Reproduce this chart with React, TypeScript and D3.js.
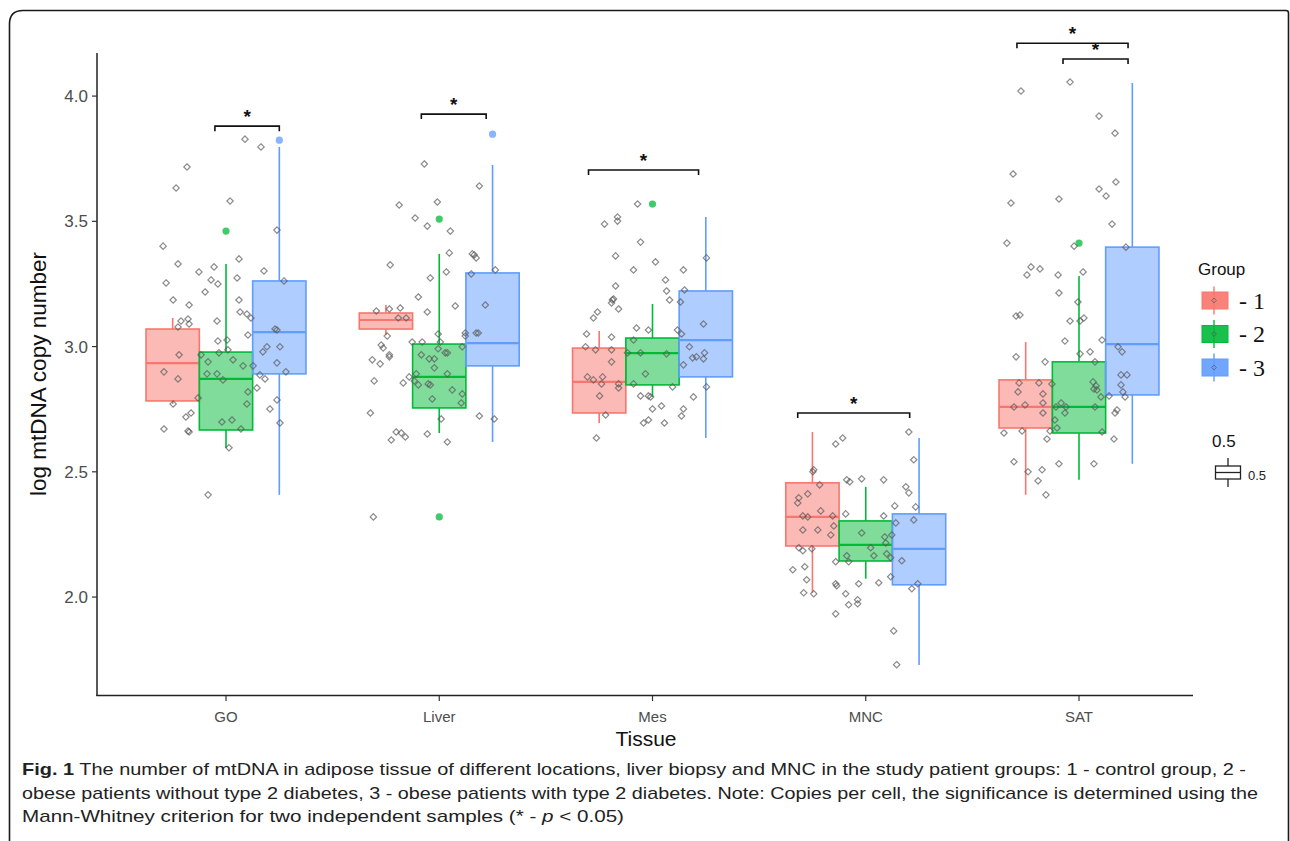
import React from 'react';
import * as d3 from 'd3';

// ---------- DATA ----------
const tissues = ['GO', 'Liver', 'Mes', 'MNC', 'SAT'];
const groupLabels = ['- 1', '- 2', '- 3'];
const groupColors = ['#F8766D', '#00BA38', '#619CFF'];
const yTicks = [2.0, 2.5, 3.0, 3.5, 4.0];

// [lower whisker, Q1, median, Q3, upper whisker] for each tissue
const statsGroup1 = [
  [2.771, 2.783, 2.934, 3.070, 3.114],
  [3.046, 3.070, 3.106, 3.134, 3.166],
  [2.695, 2.735, 2.859, 2.994, 3.062],
  [2.017, 2.204, 2.320, 2.456, 2.659],
  [2.408, 2.675, 2.759, 2.867, 3.018],
];
const statsGroup2 = [
  [2.595, 2.667, 2.871, 2.978, 3.330],
  [2.655, 2.755, 2.879, 3.010, 3.370],
  [2.799, 2.847, 2.974, 3.034, 3.170],
  [2.073, 2.144, 2.208, 2.304, 2.440],
  [2.468, 2.655, 2.759, 2.939, 3.282],
];
const statsGroup3 = [
  [2.408, 2.891, 3.058, 3.262, 3.797],
  [2.619, 2.923, 3.014, 3.294, 3.725],
  [2.635, 2.879, 3.026, 3.222, 3.517],
  [1.729, 2.049, 2.192, 2.332, 2.635],
  [2.532, 2.807, 3.010, 3.397, 4.052],
];

// outliers: tissue index, group index, value
const outlierTissue = [0, 0, 1, 1, 1, 2, 4];
const outlierGroup = [1, 2, 1, 1, 2, 1, 1];
const outlierValue = [3.461, 3.824, 3.509, 2.320, 3.848, 3.569, 3.413];

// jittered raw points: [offset from tissue centre (category units), value]
const pointsGO: [number, number][] = [
  [0.089, 3.828], [0.164, 3.797], [-0.183, 3.717], [-0.234, 3.633], [0.019, 3.581], [0.239, 3.465],
  [-0.295, 3.401], [-0.225, 3.330], [0.061, 3.350], [-0.056, 3.318], [-0.127, 3.298], [0.178, 3.302],
  [-0.281, 3.254], [-0.070, 3.266], [-0.038, 3.250], [0.052, 3.274], [0.272, 3.262], [-0.098, 3.218],
  [-0.248, 3.186], [-0.173, 3.166], [0.061, 3.186], [-0.211, 3.102], [-0.178, 3.110], [-0.173, 3.090],
  [-0.225, 3.078], [-0.042, 3.102], [0.066, 3.138], [0.098, 3.130], [0.117, 3.114], [0.230, 3.070],
  [0.239, 3.066], [-0.038, 3.022], [0.005, 3.026], [0.103, 3.046], [0.173, 2.979], [0.192, 2.999],
  [0.253, 2.999], [-0.220, 2.967], [-0.033, 2.975], [0.009, 2.987], [-0.084, 2.939], [0.033, 2.947],
  [0.080, 2.923], [-0.117, 2.967], [-0.291, 2.899], [-0.225, 2.871], [-0.089, 2.891], [-0.042, 2.891],
  [-0.014, 2.867], [0.239, 2.935], [0.127, 2.923], [0.159, 2.887], [0.183, 2.871], [0.281, 2.899],
  [0.145, 2.835], [0.103, 2.819], [-0.131, 2.795], [-0.248, 2.771], [0.098, 2.771], [0.239, 2.787],
  [0.206, 2.751], [-0.164, 2.735], [-0.188, 2.719], [-0.019, 2.699], [0.028, 2.707], [0.253, 2.695],
  [-0.291, 2.671], [-0.178, 2.663], [-0.173, 2.659], [0.070, 2.671], [0.014, 2.596], [-0.084, 2.408],
];
const pointsLiver: [number, number][] = [
  [-0.070, 3.729], [0.188, 3.641], [-0.188, 3.565], [-0.009, 3.577], [-0.113, 3.513], [-0.056, 3.481],
  [0.052, 3.461], [-0.230, 3.326], [0.047, 3.374], [0.155, 3.370], [0.164, 3.366], [0.173, 3.354],
  [0.033, 3.298], [-0.042, 3.274], [0.150, 3.290], [0.263, 3.306], [-0.098, 3.198], [-0.056, 3.138],
  [0.075, 3.162], [0.216, 3.166], [-0.295, 3.142], [-0.234, 3.150], [-0.183, 3.154], [-0.192, 3.114],
  [-0.155, 3.114], [-0.244, 3.042], [-0.005, 3.050], [0.122, 3.054], [0.122, 3.042], [0.173, 3.054],
  [0.183, 3.054], [-0.272, 3.006], [-0.263, 2.994], [-0.127, 3.018], [-0.080, 3.018], [0.005, 3.018],
  [-0.005, 2.991], [0.028, 2.975], [0.038, 2.975], [0.108, 2.999], [-0.234, 2.967], [-0.234, 2.959],
  [-0.084, 2.967], [-0.047, 2.951], [-0.023, 2.951], [-0.314, 2.947], [-0.277, 2.931], [-0.023, 2.915],
  [-0.108, 2.891], [0.038, 2.891], [-0.141, 2.879], [-0.117, 2.863], [-0.305, 2.863], [-0.169, 2.855],
  [-0.052, 2.851], [-0.042, 2.847], [-0.098, 2.847], [0.061, 2.827], [0.108, 2.811], [-0.033, 2.791],
  [0.103, 2.775], [-0.323, 2.735], [0.009, 2.711], [0.188, 2.723], [0.258, 2.711], [-0.202, 2.659],
  [-0.178, 2.655], [-0.159, 2.639], [-0.225, 2.627], [-0.056, 2.651], [0.038, 2.619], [-0.309, 2.320],
];
const pointsMes: [number, number][] = [
  [-0.070, 3.569], [-0.164, 3.517], [-0.164, 3.501], [-0.225, 3.489], [-0.056, 3.417], [-0.173, 3.362],
  [0.253, 3.354], [0.014, 3.338], [-0.089, 3.306], [0.145, 3.306], [0.061, 3.266], [-0.173, 3.242],
  [0.066, 3.222], [0.150, 3.226], [-0.183, 3.190], [-0.188, 3.186], [-0.192, 3.174], [0.080, 3.186],
  [0.131, 3.178], [-0.159, 3.150], [-0.258, 3.138], [-0.277, 3.114], [0.239, 3.090], [-0.075, 3.074],
  [-0.019, 3.066], [0.117, 3.066], [0.136, 3.050], [-0.309, 3.050], [-0.192, 3.038], [-0.089, 3.026],
  [-0.314, 2.999], [-0.267, 2.987], [-0.192, 2.987], [-0.117, 2.975], [-0.056, 2.975], [0.066, 2.971],
  [0.173, 2.999], [0.244, 2.975], [0.206, 2.959], [0.188, 2.955], [0.239, 2.951], [-0.192, 2.939],
  [-0.033, 2.891], [0.145, 2.927], [-0.305, 2.879], [-0.277, 2.867], [-0.234, 2.879], [-0.239, 2.851],
  [-0.159, 2.851], [-0.089, 2.851], [-0.159, 2.835], [0.094, 2.839], [0.253, 2.839], [-0.248, 2.803],
  [-0.056, 2.803], [-0.019, 2.803], [-0.009, 2.799], [0.192, 2.799], [0.000, 2.751], [0.042, 2.763],
  [0.145, 2.751], [0.136, 2.723], [-0.220, 2.727], [-0.019, 2.707], [-0.042, 2.695], [0.056, 2.695],
  [-0.263, 2.635],
];
const pointsMNC: [number, number][] = [
  [0.202, 2.659], [-0.108, 2.635], [-0.141, 2.611], [0.225, 2.548], [-0.244, 2.508], [-0.248, 2.500],
  [-0.089, 2.468], [-0.075, 2.460], [-0.019, 2.472], [0.084, 2.468], [-0.216, 2.448], [0.188, 2.440],
  [0.202, 2.416], [-0.272, 2.412], [-0.314, 2.396], [-0.319, 2.376], [0.234, 2.360], [0.136, 2.364],
  [-0.211, 2.344], [-0.295, 2.324], [-0.272, 2.320], [-0.155, 2.324], [-0.094, 2.332], [0.084, 2.324],
  [0.225, 2.308], [0.141, 2.296], [-0.150, 2.284], [-0.295, 2.268], [-0.225, 2.268], [-0.164, 2.248],
  [-0.019, 2.256], [0.122, 2.248], [0.089, 2.240], [0.094, 2.216], [0.023, 2.197], [-0.314, 2.197],
  [-0.295, 2.185], [-0.253, 2.193], [0.038, 2.165], [0.098, 2.173], [0.117, 2.157], [-0.089, 2.165],
  [-0.080, 2.141], [-0.141, 2.141], [0.169, 2.145], [-0.286, 2.121], [-0.342, 2.109], [0.117, 2.081],
  [-0.277, 2.069], [0.061, 2.057], [-0.033, 2.053], [0.244, 2.053], [0.216, 2.033], [-0.141, 2.053],
  [-0.136, 2.045], [-0.291, 2.017], [-0.244, 2.013], [-0.094, 2.013], [-0.038, 1.989], [-0.038, 1.973],
  [-0.080, 1.969], [-0.141, 1.933], [0.131, 1.865], [0.145, 1.730],
];
const pointsSAT: [number, number][] = [
  [-0.042, 4.056], [-0.272, 4.020], [0.094, 3.920], [0.169, 3.852], [-0.309, 3.689], [0.173, 3.657],
  [0.094, 3.629], [0.127, 3.601], [-0.319, 3.573], [-0.094, 3.589], [0.155, 3.489], [-0.338, 3.413],
  [-0.023, 3.401], [0.220, 3.397], [-0.225, 3.318], [-0.244, 3.286], [-0.183, 3.310], [-0.098, 3.286],
  [0.019, 3.298], [-0.094, 3.214], [-0.005, 3.178], [-0.295, 3.122], [-0.277, 3.126], [-0.042, 3.102],
  [0.005, 3.102], [0.023, 3.114], [-0.066, 3.022], [0.108, 3.026], [-0.295, 2.959], [0.005, 2.971],
  [0.052, 2.979], [0.183, 2.999], [0.202, 2.979], [-0.159, 2.939], [0.075, 2.939], [-0.281, 2.855],
  [-0.188, 2.855], [-0.127, 2.851], [0.066, 2.859], [0.080, 2.843], [0.197, 2.887], [0.225, 2.887],
  [0.197, 2.847], [-0.286, 2.819], [-0.169, 2.811], [0.070, 2.831], [0.084, 2.827], [0.141, 2.803],
  [0.206, 2.819], [0.216, 2.799], [0.103, 2.799], [-0.305, 2.759], [-0.253, 2.767], [-0.169, 2.775],
  [-0.108, 2.759], [-0.084, 2.775], [-0.061, 2.759], [0.075, 2.759], [-0.066, 2.735], [0.169, 2.735],
  [0.178, 2.747], [-0.169, 2.735], [-0.113, 2.707], [-0.103, 2.675], [-0.136, 2.663], [-0.352, 2.655],
  [-0.267, 2.663], [-0.150, 2.631], [0.108, 2.659], [0.164, 2.631], [-0.305, 2.540], [-0.239, 2.500],
  [-0.173, 2.508], [-0.094, 2.532], [0.070, 2.532], [-0.192, 2.464], [-0.155, 2.408],
];

// significance brackets: tissue index, left/right offsets (category units), height (value)
const bracketTissue = [0, 1, 2, 3, 4, 4];
const bracketFrom = [-0.052, -0.084, -0.300, -0.319, -0.291, -0.075];
const bracketTo = [0.250, 0.220, 0.216, 0.206, 0.230, 0.230];
const bracketValue = [3.880, 3.928, 3.705, 2.735, 4.211, 4.148];

const captionLines = [
  'The number of mtDNA in adipose tissue of different locations, liver biopsy and MNC in the study patient groups: 1 - control group, 2 -',
  'obese patients without type 2 diabetes, 3 - obese patients with type 2 diabetes. Note: Copies per cell, the significance is determined using the',
  'Mann-Whitney criterion for two independent samples (* - ',
];

// ---------- CHART ----------
const W = 1290;
const H = 841;
const SANS = '"Liberation Sans", Arial, sans-serif';
const SERIF = '"Liberation Serif", "Times New Roman", serif';

export default function App() {
  const x = d3.scaleLinear().domain([1, 5]).range([226, 1079]);
  const y = d3.scaleLinear().domain([1.609, 4.172]).range([695, 53]);
  const panelLeft = 97;
  const panelRight = 1193;
  const dodge = 0.25;
  const boxHalf = 0.125;
  const allStats = [statsGroup1, statsGroup2, statsGroup3];
  const allPoints = [pointsGO, pointsLiver, pointsMes, pointsMNC, pointsSAT];

  const diamond = (cx: number, cy: number, r: number) =>
    `M${cx},${cy - r}L${cx + r},${cy}L${cx},${cy + r}L${cx - r},${cy}Z`;

  return (
    <div style={{ position: 'absolute', left: 0, top: 0 }}>
      <svg width={W} height={H} style={{ display: 'block', background: '#fff' }}>
        {/* frame */}
        <path
          d={`M9.5,${H + 5}L9.5,24Q9.5,10.5 23,10.5L1286,10.5Q1288.5,10.5 1288.5,13L1288.5,${H + 5}`}
          fill="none"
          stroke="#1a1a1a"
          strokeWidth={1.6}
        />

        {/* boxes */}
        {tissues.map((t, ti) =>
          allStats.map((st, gi) => {
            const s = st[ti];
            const c = ti + 1 + (gi - 1) * dodge;
            const x0 = x(c - boxHalf);
            const x1 = x(c + boxHalf);
            const xc = x(c);
            const col = groupColors[gi];
            return (
              <g key={`${t}-${gi}`}>
                <line x1={xc} x2={xc} y1={y(s[0])} y2={y(s[1])} stroke={col} strokeWidth={1.6} />
                <line x1={xc} x2={xc} y1={y(s[3])} y2={y(s[4])} stroke={col} strokeWidth={1.6} />
                <rect
                  x={x0}
                  y={y(s[3])}
                  width={x1 - x0}
                  height={y(s[1]) - y(s[3])}
                  fill={col}
                  fillOpacity={0.5}
                  stroke={col}
                  strokeWidth={1.6}
                />
                <line x1={x0} x2={x1} y1={y(s[2])} y2={y(s[2])} stroke={col} strokeWidth={2.2} />
              </g>
            );
          })
        )}

        {/* outliers */}
        {outlierValue.map((v, i) => (
          <circle
            key={`o${i}`}
            cx={x(outlierTissue[i] + 1 + (outlierGroup[i] - 1) * dodge)}
            cy={y(v)}
            r={3.6}
            fill={groupColors[outlierGroup[i]]}
            fillOpacity={0.75}
          />
        ))}

        {/* jittered points */}
        {allPoints.map((pts, ti) =>
          pts.map(([dx, v], i) => (
            <path
              key={`p${ti}-${i}`}
              d={diamond(x(ti + 1 + dx), y(v), 3.2)}
              fill="none"
              stroke="#5a5a5a"
              strokeOpacity={0.7}
              strokeWidth={1.2}
            />
          ))
        )}

        {/* significance brackets */}
        {bracketValue.map((v, i) => {
          const xa = x(bracketTissue[i] + 1 + bracketFrom[i]);
          const xb = x(bracketTissue[i] + 1 + bracketTo[i]);
          const yy = y(v);
          return (
            <g key={`b${i}`}>
              <path
                d={`M${xa},${yy + 5}L${xa},${yy}L${xb},${yy}L${xb},${yy + 5}`}
                fill="none"
                stroke="#111"
                strokeWidth={1.6}
              />
              <text x={(xa + xb) / 2} y={yy - 3} textAnchor="middle" fontFamily={SANS} fontSize={19} fontWeight="bold" fill="#111">
                *
              </text>
            </g>
          );
        })}

        {/* axes */}
        <line x1={panelLeft} x2={panelLeft} y1={53} y2={696} stroke="#222" strokeWidth={1.5} />
        <line x1={panelLeft - 0.7} x2={panelRight} y1={695.5} y2={695.5} stroke="#222" strokeWidth={1.5} />
        {yTicks.map((t) => (
          <g key={`yt${t}`}>
            <line x1={panelLeft - 5} x2={panelLeft} y1={y(t)} y2={y(t)} stroke="#333" strokeWidth={1.2} />
            <text x={panelLeft - 9} y={y(t)} dy="0.36em" textAnchor="end" fontFamily={SANS} fontSize={17} fill="#4d4d4d">
              {t.toFixed(1)}
            </text>
          </g>
        ))}
        {tissues.map((t, i) => (
          <g key={`xt${t}`}>
            <line x1={x(i + 1)} x2={x(i + 1)} y1={696} y2={701} stroke="#333" strokeWidth={1.2} />
            <text x={x(i + 1)} y={722} textAnchor="middle" fontFamily={SANS} fontSize={15} fill="#4d4d4d">
              {t}
            </text>
          </g>
        ))}
        <text x={646} y={746} textAnchor="middle" fontFamily={SANS} fontSize={21} fill="#111">
          Tissue
        </text>
        <text
          transform={`translate(46,${(y(4.172) + y(1.609)) / 2}) rotate(-90)`}
          textAnchor="middle"
          fontFamily={SANS}
          fontSize={22.5}
          fill="#111"
        >
          log mtDNA copy number
        </text>

        {/* legend: groups */}
        <text x={1198} y={275} fontFamily={SANS} fontSize={17} fill="#111">
          Group
        </text>
        {groupLabels.map((g, i) => {
          const cy = 300.5 + i * 33.5;
          return (
            <g key={`lg${i}`}>
              <line x1={1214} x2={1214} y1={cy - 14} y2={cy + 14} stroke={groupColors[i]} strokeWidth={1.4} />
              <rect x={1202} y={cy - 8.5} width={26} height={17} fill={groupColors[i]} fillOpacity={0.9} stroke={groupColors[i]} strokeWidth={1} />
              <path d={diamond(1214, cy, 2.4)} fill="none" stroke="#555" strokeOpacity={0.7} strokeWidth={1} />
              <text x={1239} y={cy + 8} fontFamily={SERIF} fontSize={24} fill="#111">
                {g}
              </text>
            </g>
          );
        })}

        {/* legend: width */}
        <text x={1212} y={447} fontFamily={SANS} fontSize={17} fill="#111">
          0.5
        </text>
        <line x1={1228} x2={1228} y1={458} y2={487} stroke="#222" strokeWidth={1.3} />
        <rect x={1215.5} y={466} width={25} height={13} fill="#fff" stroke="#222" strokeWidth={1.3} />
        <line x1={1215.5} x2={1240.5} y1={472.5} y2={472.5} stroke="#222" strokeWidth={1.3} />
        <text x={1248} y={480} fontFamily={SANS} fontSize={13} fill="#222">
          0.5
        </text>

        {/* caption */}
        <text x={22} y={775} fontFamily={SANS} fontSize={17} fill="#222" textLength={1224} lengthAdjust="spacingAndGlyphs">
          <tspan fontWeight="bold">Fig. 1</tspan> {captionLines[0]}
        </text>
        <text x={22} y={799} fontFamily={SANS} fontSize={17} fill="#222" textLength={1236} lengthAdjust="spacingAndGlyphs">
          {captionLines[1]}
        </text>
        <text x={22} y={822} fontFamily={SANS} fontSize={17} fill="#222" textLength={602} lengthAdjust="spacingAndGlyphs">
          {captionLines[2]}
          <tspan fontStyle="italic">p</tspan> {'< 0.05)'}
        </text>
      </svg>
    </div>
  );
}
